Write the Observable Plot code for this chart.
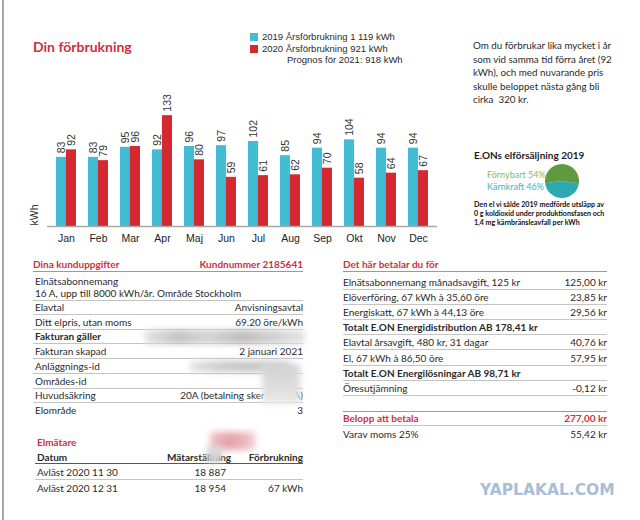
<!DOCTYPE html>
<html><head><meta charset="utf-8">
<script src="https://cdn.jsdelivr.net/npm/d3@7"></script>
<script src="https://cdn.jsdelivr.net/npm/@observablehq/plot@0.6"></script>
<style>
body{margin:0;background:#fff;}
#page{position:relative;width:640px;height:520px;overflow:hidden;background:#fff;font-family:Lato,"Open Sans",sans-serif;color:#2a2a2a;}
.t{position:absolute;white-space:pre;line-height:14px;height:14px;}
.ln{position:absolute;height:1px;background:#c4c4c4;}
.blur{position:absolute;filter:blur(3px);}
</style></head>
<body><div id="page"></div>
<script>
// ---------- data ----------
const months = ["Jan","Feb","Mar","Apr","Maj","Jun","Jul","Aug","Sep","Okt","Nov","Dec"];
const values2019 = [83,83,95,92,96,97,102,85,94,104,94,94];
const values2020 = [92,79,96,133,80,59,61,62,70,58,64,67];
const seriesNames = ["2019 Årsförbrukning 1 119 kWh","2020 Årsförbrukning 921 kWh"];
const forecastText = "Prognos för 2021: 918 kWh";
const mixLabels = ["Förnybart 54%","Kärnkraft 46%"];
const mixShares = [54,46];
const noteLines = ["Om du förbrukar lika mycket i år","som vid samma tid förra året (92","kWh), och med nuvarande pris","skulle beloppet nästa gång bli","cirka  320 kr."];
const emissionLines = ["Den el vi sålde 2019 medförde utsläpp av","0 g koldioxid under produktionsfasen och","1,4 mg kärnbränsleavfall per kWh"];
const customerRows = [
  ["Elavtal","Anvisningsavtal",false],
  ["Ditt elpris, utan moms","69.20 öre/kWh",false],
  ["Fakturan gäller","",true],
  ["Fakturan skapad","2 januari 2021",false],
  ["Anläggnings-id","",false],
  ["Områdes-id","",false],
  ["Huvudsäkring","20A (betalning sker för 16A)",false],
  ["Elområde","3",false]
];
const payRows = [
  ["Elnätsabonnemang månadsavgift, 125 kr","125,00 kr",false],
  ["Elöverföring, 67 kWh à 35,60 öre","23,85 kr",false],
  ["Energiskatt, 67 kWh à 44,13 öre","29,56 kr",false],
  ["Totalt E.ON Energidistribution AB 178,41 kr","",true],
  ["Elavtal årsavgift, 480 kr, 31 dagar","40,76 kr",false],
  ["El, 67 kWh à 86,50 öre","57,95 kr",false],
  ["Totalt E.ON Energilösningar AB 98,71 kr","",true],
  ["Öresutjämning","-0,12 kr",false]
];
const meterRows = [
  ["Avläst 2020 11 30","18 887",""],
  ["Avläst 2020 12 31","18 954","67 kWh"]
];

const TEAL = "#42bdd5", RED = "#d6282f", BRAND = "#cf2f3d";
const page = document.getElementById("page");

function txt(x, yc, s, o = {}) {
  const d = document.createElement("div");
  d.className = "t";
  d.textContent = s;
  d.style.top = (yc - 7) + "px";
  if (o.right) { d.style.right = (640 - x) + "px"; } else { d.style.left = x + "px"; }
  d.style.fontSize = (o.size || 10) + "px";
  if (o.bold) d.style.fontWeight = "700";
  if (o.color) d.style.color = o.color;
  if (o.family) d.style.fontFamily = o.family;
  page.appendChild(d);
  return d;
}
function line(x1, x2, y, color, h) {
  const d = document.createElement("div");
  d.className = "ln";
  d.style.left = x1 + "px"; d.style.width = (x2 - x1) + "px"; d.style.top = y + "px";
  if (color) d.style.background = color;
  if (h) d.style.height = h + "px";
  page.appendChild(d);
}
function blur(x, y, w, h, bg) {
  const d = document.createElement("div");
  d.className = "blur";
  Object.assign(d.style, {left: x + "px", top: y + "px", width: w + "px", height: h + "px", background: bg});
  page.appendChild(d);
}

// left border
line(2, 4, 0, "#a8a8a8", 520);

// ---------- bar chart ----------
const W = 460, ML = 47, MR = 23, PI = 0.38, PO = 0.28;
const step = (W - ML - MR) / (months.length - PI + 2 * PO);
const bw = step * (1 - PI);
const d2019 = months.map((m, i) => ({month: m, value: values2019[i]}));
const d2020 = months.map((m, i) => ({month: m, value: values2020[i]}));

const chart = Plot.plot({
  width: W, height: 180,
  marginLeft: ML, marginRight: MR, marginTop: 31, marginBottom: 24,
  style: {fontFamily: "'Liberation Sans', Arial, sans-serif", fontSize: "10.5px", color: "#222", background: "transparent", overflow: "visible"},
  x: {domain: months, paddingInner: PI, paddingOuter: PO, label: null, tickSize: 0, tickPadding: 8},
  y: {domain: [0, 150], axis: null},
  marks: [
    Plot.barY(d2019, {x: "month", y: "value", fill: TEAL, insetRight: bw / 2}),
    Plot.barY(d2020, {x: "month", y: "value", fill: RED, insetLeft: bw / 2}),
    Plot.ruleY([0], {stroke: "#a9a9a9", strokeWidth: 1.5}),
    Plot.text(d2019, {x: "month", y: "value", text: d => String(d.value), rotate: -90, textAnchor: "start", dx: -bw / 4, dy: -4, fill: "#333"}),
    Plot.text(d2020, {x: "month", y: "value", text: d => String(d.value), rotate: -90, textAnchor: "start", dx: bw / 4, dy: -4, fill: "#333"}),
    Plot.text(["kWh"], {frameAnchor: "bottom-left", rotate: -90, textAnchor: "start", dx: -10, dy: -1, fill: "#333"})
  ]
});
chart.style.position = "absolute";
chart.style.left = "0px";
chart.style.top = "70px";
page.appendChild(chart);

// title & legend
txt(33, 47, "Din förbrukning", {size: 14, bold: true, color: BRAND});
[TEAL, RED].forEach((c, i) => {
  const sq = document.createElement("div");
  Object.assign(sq.style, {position: "absolute", left: "250px", top: (33 + i * 12) + "px", width: "8px", height: "8px", background: c});
  page.appendChild(sq);
  txt(262, 37 + i * 12, seriesNames[i], {size: 9.5, family: "'Liberation Sans', Arial, sans-serif"});
});
txt(287, 60, forecastText, {size: 9.5, family: "'Liberation Sans', Arial, sans-serif"});

// right-top note
noteLines.forEach((s, i) => txt(473, 45 + i * 13.5, s, {size: 9.8}));
txt(474, 155, "E.ONs elförsäljning 2019", {size: 10, bold: true, color: "#1e1e1e"});
txt(487, 175, mixLabels[0], {size: 9, color: "#86b865"});
txt(487, 187, mixLabels[1], {size: 9, color: "#3db4c2"});
emissionLines.forEach((s, i) => txt(474, 205 + i * 9, s, {size: 7.1, bold: true, color: "#111"}));

// pie (d3)
const pieSvg = d3.create("svg").attr("width", 40).attr("height", 40)
  .style("position", "absolute").style("left", "542px").style("top", "161px");
const tealShare = mixShares[1] / d3.sum(mixShares);
const start = Math.PI * (1 - tealShare);
const arcs = d3.pie().sort(null).startAngle(start).endAngle(start + 2 * Math.PI)([mixShares[1], mixShares[0]]);
const arcGen = d3.arc().innerRadius(0).outerRadius(17);
pieSvg.append("g").attr("transform", "translate(20,20)")
  .selectAll("path").data(arcs).join("path")
  .attr("d", arcGen).attr("fill", (d, i) => i === 0 ? "#2ea8b3" : "#5f9a3f");
page.appendChild(pieSvg.node());

// ---------- customer table ----------
const LX = 35, RX = 303;
txt(33, 264, "Dina kunduppgifter", {size: 10, bold: true, color: BRAND});
txt(RX, 264, "Kundnummer 2185641", {size: 10, bold: true, color: BRAND, right: true});
line(33, RX, 271, "#9a9a9a");
txt(LX, 281, "Elnätsabonnemang", {size: 10});
txt(LX, 293, "16 A, upp till 8000 kWh/år. Område Stockholm", {size: 10});
line(33, RX, 300);
customerRows.forEach(([k, v, b], i) => {
  const y = 307 + i * 14.7;
  txt(LX, y, k, {size: 10, bold: b});
  if (v) txt(RX, y, v, {size: 10, right: true});
  if (i < customerRows.length - 1) line(33, RX, y + 7);
});
// privacy blur patches
blur(145, 330, 160, 14, "linear-gradient(90deg,#e4e4e4,#c4c4c4 20%,#d4d4d4 40%,#bdbdbd 60%,#d0d0d0 80%,#e6e6e6)");
blur(190, 361, 100, 11, "linear-gradient(90deg,#e6e6e6,#cbcbcb 30%,#c4c4c4 60%,#d8d8d8)");
blur(262, 364, 38, 40, "linear-gradient(180deg,#d2d2d2,#dedede 60%,#ececec)");

// meter table
txt(37, 442, "Elmätare", {size: 10, bold: true, color: BRAND});
txt(37, 457, "Datum", {size: 10, bold: true});
txt(167, 457, "Mätarställning", {size: 10, bold: true});
txt(RX, 457, "Förbrukning", {size: 10, bold: true, right: true});
line(35, RX, 463, "#555");
meterRows.forEach(([a, b, c], i) => {
  const y = 472 + i * 16;
  txt(37, y, a, {size: 10});
  txt(226, y, b, {size: 10, right: true});
  if (c) txt(RX, y, c, {size: 10, right: true});
  if (i < meterRows.length - 1) line(35, RX, y + 7);
});
blur(210, 432, 46, 18, "linear-gradient(90deg,#f0c4c9,#e3a3ab 40%,#e8b2b9 70%,#f4d6d9)");
blur(207, 447, 15, 16, "#d4d4d4");

// ---------- payment table ----------
const PL = 343, PR = 607;
txt(PL, 264, "Det här betalar du för", {size: 10, bold: true, color: BRAND});
line(PL, PR, 271, "#9a9a9a");
payRows.forEach(([k, v, b], i) => {
  const y = 282 + i * 15.1;
  txt(PL, y, k, {size: 10, bold: b});
  if (v) txt(PR, y, v, {size: 10, right: true});
  line(PL, PR, y + 7);
});
line(PL, PR, 411, "#9a9a9a");
txt(PL, 418, "Belopp att betala", {size: 10, bold: true, color: BRAND});
txt(PR, 418, "277,00 kr", {size: 10, bold: true, color: BRAND, right: true});
line(PL, PR, 425);
txt(PL, 434, "Varav moms 25%", {size: 10});
txt(PR, 434, "55,42 kr", {size: 10, right: true});

// watermark
txt(480, 490, "YAPLAKAL.COM", {size: 15.5, bold: true, color: "#a9bdd7", family: "'DejaVu Sans', sans-serif"});
</script></body></html>
